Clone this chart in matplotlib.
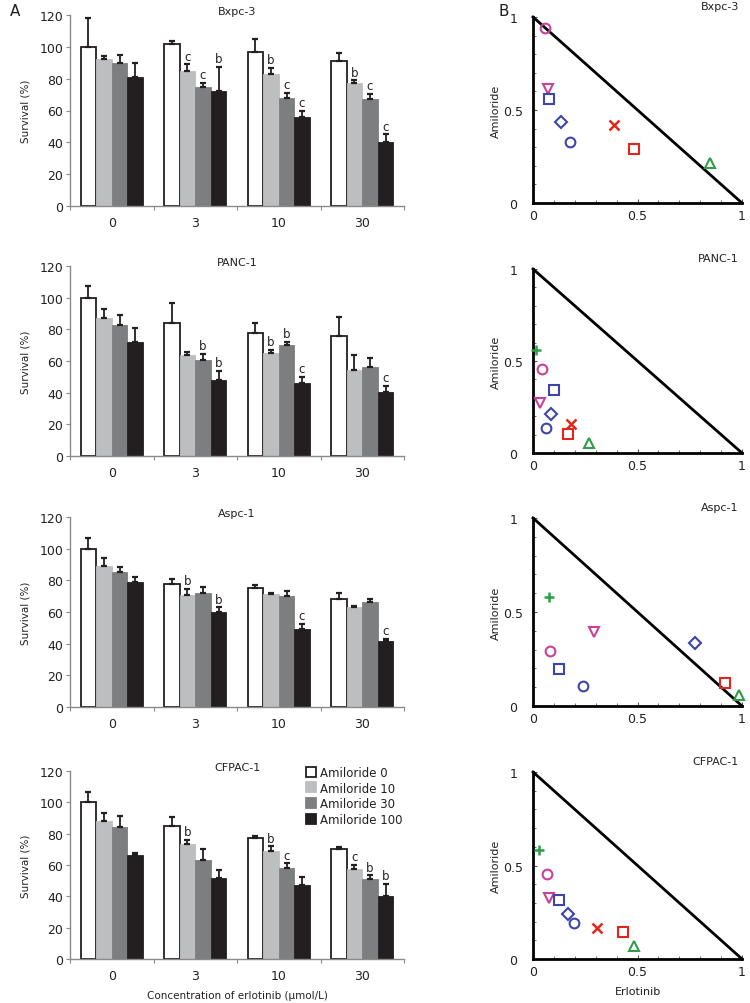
import numpy as np
import matplotlib
matplotlib.use("Agg")
import matplotlib.pyplot as plt
from matplotlib.lines import Line2D

plt.rcParams['font.family'] = ['DejaVu Sans']

# ---------------- data ----------------
cell_lines = ["Bxpc-3", "PANC-1", "Aspc-1", "CFPAC-1"]
erlotinib_conc = ["0", "3", "10", "30"]
amiloride_labels = ["Amiloride 0", "Amiloride 10", "Amiloride 30", "Amiloride 100"]

# rows: amiloride 0/10/30/100 ; columns: erlotinib 0/3/10/30
bxpc3_mean = [[100, 101.5, 97, 91], [92.5, 85, 83, 77], [90, 75, 68, 67], [81, 72.5, 56, 40.5]]
bxpc3_err = [[18, 2, 8, 5], [1.5, 4, 4, 2], [5, 2.5, 3, 3.5], [9, 15, 4, 4.5]]
bxpc3_sig = [["", "", "", ""], ["", "c", "b", "b"], ["", "c", "c", "c"], ["", "b", "c", "c"]]

panc1_mean = [[100, 84, 78, 75.5], [87, 64, 65, 54.5], [83, 60.5, 70, 56], [72, 48, 46, 40.5]]
panc1_err = [[7.5, 12.5, 6, 12.5], [6, 2, 2, 9], [6, 4, 2, 6], [9, 6, 4, 4]]
panc1_sig = [["", "", "", ""], ["", "", "b", ""], ["", "b", "b", ""], ["", "b", "c", "c"]]

aspc1_mean = [[100, 78, 75, 68], [89, 70.5, 71.5, 63], [85, 72, 70, 66.5], [79, 60, 49, 42]]
aspc1_err = [[7, 3, 2, 4], [5, 4, 0.8, 0.8], [3.5, 4, 3, 2], [3, 3, 3.5, 1]]
aspc1_sig = [["", "", "", ""], ["", "b", "", ""], ["", "", "", ""], ["", "b", "c", "c"]]

cfpac1_mean = [[100, 85, 77.5, 70.5], [88, 73.5, 69, 57.5], [84.5, 63.5, 58, 51], [66.5, 52, 47, 40]]
cfpac1_err = [[6.5, 5.5, 1, 1.3], [5.5, 2.5, 3, 2.8], [6.5, 7, 3, 2.5], [1, 4.5, 5.5, 8]]
cfpac1_sig = [["", "", "", ""], ["", "b", "b", "c"], ["", "", "c", "b"], ["", "", "", "b"]]

# isobologram points (normalised doses): erlotinib (x) and amiloride (y)
iso_markers = ["o", "v", "s", "D", "o", "x", "s", "^", "+"]
iso_colors = ["#c8409a", "#c8409a", "#3d45ab", "#3d45ab", "#3d45ab",
              "#e2261c", "#e2261c", "#2e9e48", "#2e9e48"]
nan = np.nan
bxpc3_erl = [0.059, 0.072, 0.075, 0.133, 0.176, 0.389, 0.485, 0.848, nan]
bxpc3_ami = [0.94, 0.614, 0.56, 0.438, 0.33, 0.417, 0.291, 0.214, nan]
panc1_erl = [0.045, 0.032, 0.099, 0.085, 0.064, 0.184, 0.168, 0.267, 0.013]
panc1_ami = [0.458, 0.273, 0.345, 0.21, 0.136, 0.159, 0.105, 0.056, 0.562]
aspc1_erl = [0.08, 0.293, 0.125, 0.776, 0.237, nan, 0.92, 0.984, 0.075]
aspc1_ami = [0.29, 0.395, 0.196, 0.333, 0.107, nan, 0.125, 0.057, 0.578]
cfpac1_erl = [0.069, 0.075, 0.123, 0.168, 0.195, 0.304, 0.429, 0.485, 0.029]
cfpac1_ami = [0.454, 0.327, 0.316, 0.241, 0.193, 0.166, 0.143, 0.071, 0.584]

bar_means = [bxpc3_mean, panc1_mean, aspc1_mean, cfpac1_mean]
bar_errs = [bxpc3_err, panc1_err, aspc1_err, cfpac1_err]
bar_sigs = [bxpc3_sig, panc1_sig, aspc1_sig, cfpac1_sig]
iso_x = [bxpc3_erl, panc1_erl, aspc1_erl, cfpac1_erl]
iso_y = [bxpc3_ami, panc1_ami, aspc1_ami, cfpac1_ami]

# ---------------- style ----------------
bar_colors = ["white", "#bdbec0", "#7d7e80", "#231f20"]
bar_edges = ["#231f20", "#bdbec0", "#7d7e80", "#231f20"]
text_col = "#231f20"
axis_gray = "#8a8a8a"

W, H = 750, 1004
fig = plt.figure(figsize=(W / 100, H / 100), dpi=100)

bar_boxes = [(16, 207), (267, 457), (518, 708), (772, 960)]
iso_boxes = [(18, 204), (270, 454), (519, 707), (773, 960)]
bar_left, bar_right = 70, 404
iso_left, iso_right = 533, 742

bw = 0.186
offsets = (np.arange(4) - 1.5) * bw
xcat = np.arange(len(erlotinib_conc))

for i, name in enumerate(cell_lines):
    top, bot = bar_boxes[i]
    ax = fig.add_axes([bar_left / W, 1 - bot / H, (bar_right - bar_left) / W, (bot - top) / H])
    means = bar_means[i]
    errs = bar_errs[i]
    sigs = bar_sigs[i]
    for j in range(4):
        xs = xcat + offsets[j]
        ax.bar(xs, means[j], width=bw, color=bar_colors[j], edgecolor=bar_edges[j],
               linewidth=1.3 if j == 0 else 0.6, label=amiloride_labels[j], zorder=2)
        ax.errorbar(xs, means[j], yerr=[np.zeros(4), errs[j]], fmt="none",
                    ecolor=text_col, elinewidth=1.3, capsize=2.4, capthick=1.6, zorder=3)
        for k in range(4):
            s = sigs[j][k]
            if s:
                ax.text(xs[k], means[j][k] + errs[j][k] + 1.0, s, ha="center", va="bottom",
                        fontsize=8.5, color=text_col)
    ax.set_xlim(-0.5, 3.5)
    ax.set_ylim(0, 120)
    ax.set_yticks(np.arange(0, 121, 20))
    ax.set_xticks([-0.5, 0.5, 1.5, 2.5, 3.5])
    ax.set_xticklabels([])
    ax.set_xticks(xcat, minor=True)
    ax.set_xticklabels(erlotinib_conc, minor=True)
    ax.tick_params(axis="x", which="major", length=3, color=axis_gray, direction="out")
    ax.tick_params(axis="x", which="minor", length=0, pad=7, labelsize=9, labelcolor=text_col)
    ax.tick_params(axis="y", length=3, color=axis_gray, labelsize=9, labelcolor=text_col, pad=2)
    for sp in ["top", "right"]:
        ax.spines[sp].set_visible(False)
    for sp in ["left", "bottom"]:
        ax.spines[sp].set_color(axis_gray)
        ax.spines[sp].set_linewidth(1.0)
    ax.set_ylabel("Survival (%)", fontsize=7.5, color=text_col, labelpad=6)
    ax.text(0.5, 1.02, name, transform=ax.transAxes, ha="center", va="center",
            fontsize=8, color=text_col)
    if i == 3:
        ax.set_xlabel("Concentration of erlotinib (μmol/L)", fontsize=7.5, color=text_col, labelpad=6)
        handles = [Line2D([], [], marker="s", linestyle="none", markersize=7,
                          markerfacecolor=bar_colors[j],
                          markeredgecolor="#231f20" if j == 0 else bar_colors[j],
                          markeredgewidth=1.3) for j in range(4)]
        ax.legend(handles, amiloride_labels, loc="upper left",
                  bbox_to_anchor=((305 - bar_left) / (bar_right - bar_left), (bot - 767) / (bot - top)),
                  frameon=False, borderaxespad=0, handletextpad=0.3, labelspacing=0.22,
                  handlelength=1.0, fontsize=8.5, labelcolor=text_col, borderpad=0)

# ---------------- isobolograms ----------------
for i, name in enumerate(cell_lines):
    top, bot = iso_boxes[i]
    ax = fig.add_axes([iso_left / W, 1 - bot / H, (iso_right - iso_left) / W, (bot - top) / H])
    ax.plot([0, 1], [1, 0], color="black", linewidth=2.0, clip_on=False, zorder=2)
    for k in range(len(iso_markers)):
        xv, yv = iso_x[i][k], iso_y[i][k]
        if np.isnan(xv):
            continue
        m = iso_markers[k]
        c = iso_colors[k]
        if m in ("x", "+"):
            ax.plot([xv], [yv], marker=m, color=c, markersize=7, markeredgewidth=1.8,
                    linestyle="none", clip_on=False, zorder=3)
        else:
            ms = 6 if m == "D" else 7
            ax.plot([xv], [yv], marker=m, markerfacecolor="none", markeredgecolor=c,
                    markersize=ms, markeredgewidth=1.5, linestyle="none", clip_on=False, zorder=3)
    ax.set_xlim(0, 1)
    ax.set_ylim(0, 1)
    ax.set_xticks([0, 0.5, 1])
    ax.set_xticklabels(["0", "0.5", "1"])
    ax.set_yticks([0, 0.5, 1])
    ax.set_yticklabels(["0", "0.5", "1"], ha="center")
    ax.set_xticks(np.arange(0, 1.01, 0.1), minor=True)
    ax.set_yticks(np.arange(0, 1.01, 0.1), minor=True)
    ax.tick_params(which="both", direction="in", color="#555555")
    ax.tick_params(which="major", length=3, width=0.8, labelsize=9, labelcolor=text_col)
    ax.tick_params(axis="x", which="major", pad=4)
    ax.tick_params(axis="y", which="major", pad=14)
    ax.tick_params(which="minor", length=2.5, width=0.6)
    for sp in ["top", "right"]:
        ax.spines[sp].set_visible(False)
    for sp in ["left", "bottom"]:
        ax.spines[sp].set_color("black")
        ax.spines[sp].set_linewidth(2.0)
    ax.set_ylabel("Amiloride", fontsize=8, color=text_col, labelpad=2)
    ax.text(0.985, 1.03, name, transform=ax.transAxes, ha="right", va="bottom",
            fontsize=8, color=text_col)
    if i == 3:
        ax.set_xlabel("Erlotinib", fontsize=8, color=text_col, labelpad=6)

fig.text(10 / W, 1 - 12 / H, "A", fontsize=11, ha="left", va="center", color=text_col)
fig.text(498 / W, 1 - 12 / H, "B", fontsize=11, ha="left", va="center", color=text_col)

fig.savefig("out.png", dpi=100)
